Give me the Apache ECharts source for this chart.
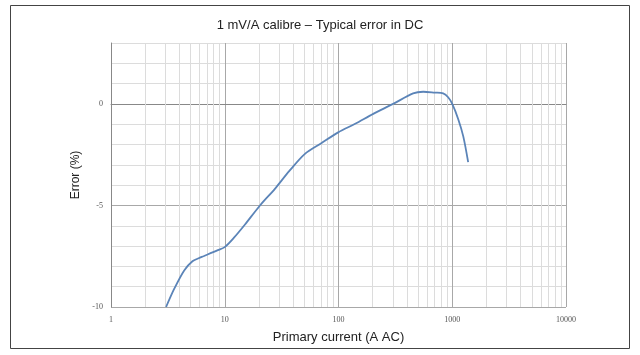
<!DOCTYPE html>
<html><head><meta charset="utf-8">
<script src="https://cdn.jsdelivr.net/npm/echarts@6/dist/echarts.min.js"></script>
<style>html,body{margin:0;padding:0;background:#fff}#c{width:640px;height:355px}</style>
</head><body><div id="c"></div>
<script>
var currents = [3.05, 3.6, 4.4, 5.2, 5.9, 6.5, 7.5, 8.7, 10, 12, 15, 20.4, 27.6, 37, 50.7, 70, 99.4, 140, 202, 302, 453, 556, 700, 832, 920, 1000, 1127, 1250, 1380];
var errors   = [-10, -9.1, -8.2, -7.75, -7.6, -7.5, -7.35, -7.2, -7.05, -6.6, -5.95, -5.0, -4.18, -3.3, -2.46, -1.95, -1.40, -0.98, -0.49, 0.0, 0.52, 0.6, 0.56, 0.52, 0.33, 0.0, -0.74, -1.6, -2.87];
var xTicks = [1, 10, 100, 1000, 10000];
var yTicks = [0, -5, -10];
var minorX = [2,3,4,5,6,7,8,9,20,30,40,50,60,70,80,90,200,300,400,500,600,700,800,900,2000,3000,4000,5000,6000,7000,8000,9000];

var chart = echarts.init(document.getElementById('c'), null, {renderer:'canvas'});
var narrow = '"Liberation Sans Narrow","Liberation Sans",sans-serif';
chart.setOption({
  animation:false,
  backgroundColor:'#fff',
  title:{text:'1 mV/A calibre \u2013 Typical error in DC', left:'center', top:14,
    textStyle:{fontFamily:narrow, fontSize:13, fontWeight:'normal', color:'#222'}},
  graphic:[{type:'rect', shape:{x:10.5,y:5.5,width:619,height:343}, style:{fill:null, stroke:'#444', lineWidth:1}, silent:true, z:-1}],
  grid:{left:111, right:74, top:43, bottom:48, containLabel:false},
  xAxis:{type:'log', logBase:10, min:1, max:10000,
    name:'Primary current (A AC)', nameLocation:'middle', nameGap:24,
    nameTextStyle:{fontFamily:narrow, fontSize:13, color:'#222'},
    axisLine:{show:true, lineStyle:{color:'#888', width:1}},
    axisTick:{show:false},
    axisLabel:{fontFamily:'"Liberation Serif",serif', fontSize:8, color:'#555', margin:9,
      formatter:function(v){return xTicks.indexOf(Math.round(v))>=0 ? String(Math.round(v)) : '';}},
    splitLine:{show:true, lineStyle:{color:'#a8a8a8', width:1}}
  },
  yAxis:{type:'value', min:-10, max:3, interval:1,
    name:'Error (%)', nameLocation:'middle', nameGap:27,
    nameTextStyle:{fontFamily:narrow, fontSize:12, color:'#222'},
    axisLine:{show:true, lineStyle:{color:'#888', width:1}},
    axisTick:{show:false},
    axisLabel:{fontFamily:'"Liberation Serif",serif', fontSize:8, color:'#555', margin:8,
      formatter:function(v){return yTicks.indexOf(v)>=0 ? String(v) : '';}},
    splitLine:{show:true, lineStyle:{color:['#a8a8a8','#dcdcdc','#dcdcdc','#dcdcdc','#dcdcdc'], width:1}}
  },
  series:[
    {type:'line', data:[], silent:true,
     markLine:{silent:true, symbol:['none','none'], label:{show:false}, animation:false,
       lineStyle:{color:'#dcdcdc', width:1, type:'solid'},
       data:minorX.map(function(v){return {xAxis:v};})}},
    {type:'line', smooth:0.3, showSymbol:false, silent:true, z:5,
     lineStyle:{color:'#5b84b8', width:1.8},
     data:currents.map(function(c,i){return [c, errors[i]];})}
  ]
});
</script></body></html>
